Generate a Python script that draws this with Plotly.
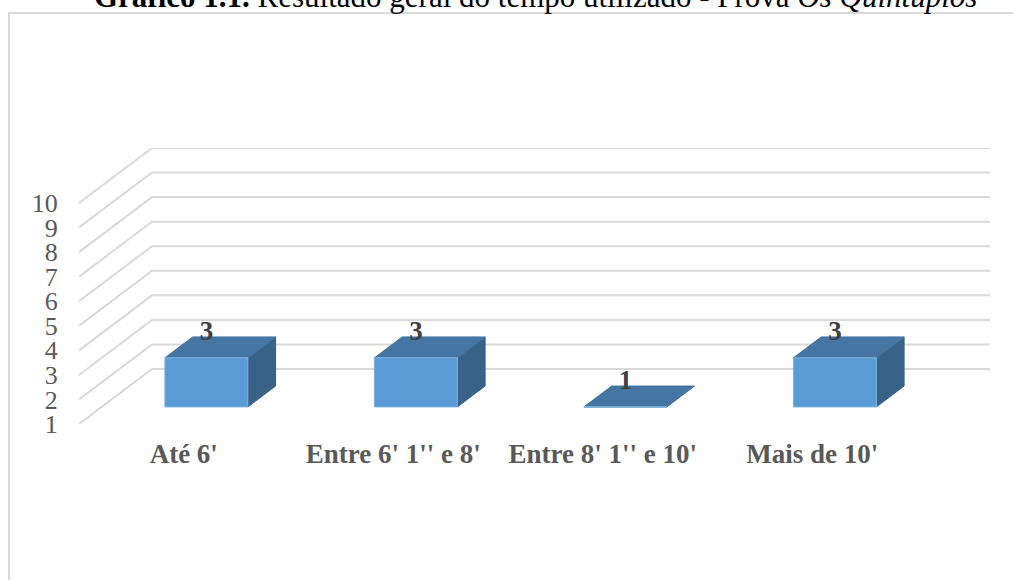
import plotly.graph_objects as go

# Chart content
categories = ["Até 6'", "Entre 6' 1'' e 8'", "Entre 8' 1'' e 10'", "Mais de 10'"]
counts = [3, 3, 1, 3]
value_ticks = [1, 2, 3, 4, 5, 6, 7, 8, 9, 10]

# Oblique projection: how far the back wall sits from the front plane, in axis units
DEPTH_X = 73 / 209.5
DEPTH_Y = 55 / 24.55
BAR_WIDTH = 0.396
BAR_DEPTH = 0.38
BASE = value_ticks[0]

GRID = "#d9d9d9"
FRONT = "#5b9bd5"
EDGE = "#7fb2e0"
TOP = "#4575a2"
SIDE = "#386288"
SERIF = "Liberation Serif, Times New Roman, serif"


def project(x, y, depth):
    """Map a point at a fractional depth (0 front, 1 back) onto the flat axes."""
    return x + depth * DEPTH_X, y + depth * DEPTH_Y


def face(points, color, edge=None):
    xs = [p[0] for p in points] + [points[0][0]]
    ys = [p[1] for p in points] + [points[0][1]]
    return go.Scatter(
        x=xs, y=ys, mode="lines", fill="toself", fillcolor=color,
        line=dict(color=edge or color, width=1), hoverinfo="skip", showlegend=False,
    )


fig = go.Figure()

# Receding gridlines on the side wall and the back wall
x_left, x_right = -0.5, len(categories) - 0.5
for v in value_ticks:
    p0 = project(x_left, v, 0)
    p1 = project(x_left, v, 1)
    p2 = project(x_right, v, 1)
    fig.add_trace(go.Scatter(
        x=[p0[0], p1[0], p2[0]], y=[p0[1], p1[1], p2[1]], mode="lines",
        line=dict(color=GRID, width=2), hoverinfo="skip", showlegend=False,
    ))

# Boxes: each one is centred halfway into the depth of the floor
d0 = 0.5 - BAR_DEPTH / 2
d1 = 0.5 + BAR_DEPTH / 2
for i, v in enumerate(counts):
    xa, xb = i - BAR_WIDTH / 2, i + BAR_WIDTH / 2
    if v > BASE:
        fig.add_trace(face(
            [project(xb, BASE, d0), project(xb, BASE, d1), project(xb, v, d1), project(xb, v, d0)],
            SIDE,
        ))
    fig.add_trace(face(
        [project(xa, v, d0), project(xb, v, d0), project(xb, v, d1), project(xa, v, d1)],
        TOP,
    ))
    fig.add_trace(face(
        [project(xa, BASE, d0), project(xb, BASE, d0), project(xb, v, d0), project(xa, v, d0)],
        FRONT, EDGE,
    ))

# Value labels sit just above the rear edge of each box top
label_x = [project(i, c, d0)[0] for i, c in enumerate(counts)]
label_y = [project(i, c, d1)[1] + 0.14 for i, c in enumerate(counts)]
fig.add_trace(go.Scatter(
    x=label_x, y=label_y, mode="text", text=[str(c) for c in counts],
    textposition="middle center",
    textfont=dict(family=SERIF, size=27, color="#404040", weight="bold"),
    hoverinfo="skip", showlegend=False,
))

fig.update_layout(
    width=1013, height=580, autosize=False,
    margin=dict(l=79, r=23, t=148, b=156),
    paper_bgcolor="white", plot_bgcolor="white",
    showlegend=False,
    xaxis=dict(
        range=[x_left, x_right + DEPTH_X],
        tickmode="array", tickvals=list(range(len(categories))), ticktext=categories,
        showgrid=False, zeroline=False, showline=False,
        ticks="outside", ticklen=6, tickcolor="rgba(0,0,0,0)",
        tickfont=dict(family=SERIF, size=27, color="#595959", weight="bold"),
    ),
    yaxis=dict(
        range=[BASE, value_ticks[-1] + DEPTH_Y],
        tickmode="array", tickvals=value_ticks, ticktext=[str(t) for t in value_ticks],
        showgrid=False, zeroline=False, showline=False,
        ticks="outside", ticklen=15, tickcolor="rgba(0,0,0,0)",
        tickfont=dict(family=SERIF, size=26, color="#595959"),
    ),
    # Chart frame, running off the page to the right and below
    shapes=[dict(
        type="rect", xref="paper", yref="paper",
        x0=(9 - 79) / 911, x1=(1040 - 79) / 911,
        y0=(424 - 620) / 276, y1=(424 - 13) / 276,
        line=dict(color=GRID, width=2), fillcolor="rgba(0,0,0,0)", layer="below",
    )],
    annotations=[dict(
        xref="paper", yref="paper", x=(535 - 79) / 911, y=(424 - 16) / 276,
        xanchor="center", yanchor="bottom", showarrow=False,
        text="<b>Gráfico 1.1.</b> Resultado geral do tempo utilizado - Prova <i>Os Quintuplos</i>",
        font=dict(family=SERIF, size=31, color="black"),
    )],
)

fig.write_html("out.html")
